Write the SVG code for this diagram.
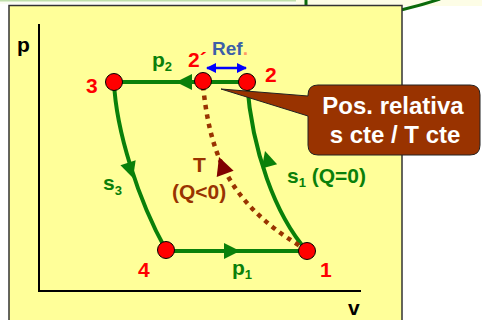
<svg xmlns="http://www.w3.org/2000/svg" width="482" height="320" viewBox="0 0 482 320">
<style>
.lbl{font-family:"Liberation Sans",Arial,sans-serif;font-weight:bold;font-size:21px}
.red{fill:#ff0000}
.grn{fill:#0a800a}
.brn{fill:#993300}
.sub{font-size:13px}
.pt{fill:#ff0000;stroke:#000;stroke-width:1}
.gl{fill:none;stroke:#0a800a;stroke-width:4}
.dot{fill:none;stroke:#993300;stroke-width:4.5;stroke-dasharray:4.5 5}
</style>
<defs>
<path id="ah" d="M0,0 L-16,-8 L-16,8 Z" fill="#0a800a"/>
<path id="ahd" d="M0,0 L-18,-9 L-18,9 Z" fill="#800000"/>
<marker id="ba" viewBox="0 0 10 10" refX="9" refY="5" markerWidth="4" markerHeight="4" orient="auto-start-reverse">
<path d="M0,0 L10,5 L0,10 Z" fill="#0000ff"/>
</marker>
</defs>
<rect width="482" height="320" fill="#ffffff"/>
<rect x="0" y="0" width="296" height="4" fill="#fbfdf3"/>
<line x1="0" y1="0.8" x2="296" y2="0.8" stroke="#bfe0ac" stroke-width="1.6"/>
<rect x="296" y="0" width="186" height="6" fill="#fdfde6"/>
<line x1="306" y1="0" x2="306" y2="6" stroke="#0a6a0a" stroke-width="3"/>
<path d="M401,10 Q422,5 440,-1" fill="none" stroke="#0a6a0a" stroke-width="3"/>
<rect x="9" y="5.5" width="393" height="330" fill="#ffff99" stroke="#333" stroke-width="1.5"/>
<g id="axes" stroke="#000" stroke-width="2">
<line x1="39" y1="24" x2="39" y2="291"/>
<line x1="38" y1="291" x2="361" y2="291"/>
</g>
<text class="lbl" x="17" y="52">p</text>
<text class="lbl" x="348" y="315">v</text>
<g id="connectors">
<line class="gl" x1="114" y1="82" x2="247" y2="82"/>
<use href="#ah" transform="translate(176,82) rotate(180)"/>
<line class="gl" x1="166" y1="251" x2="307" y2="251"/>
<use href="#ah" transform="translate(240,251)"/>
<path class="gl" d="M247,83 C252,150 275,215 307,251"/>
<use href="#ah" transform="translate(265,151) rotate(-106)"/>
<path class="gl" d="M114,82 C116,130 138,200 166,250"/>
<use href="#ah" transform="translate(133,178) rotate(72)"/>
<path class="dot" d="M203,86 C210,150 225,200 300,246"/>
<use href="#ahd" transform="translate(219,157) rotate(-110)"/>
<line x1="207" y1="68" x2="246" y2="68" stroke="#0000ff" stroke-width="2.5" marker-start="url(#ba)" marker-end="url(#ba)"/>
</g>
<g id="node-3"><circle class="pt" cx="114" cy="82" r="8.5"/><text class="lbl red" x="86" y="93">3</text></g>
<g id="node-2p"><circle class="pt" cx="203" cy="81" r="8.5"/><text class="lbl red" x="188" y="67">2´</text></g>
<g id="node-2"><circle class="pt" cx="247" cy="82" r="8.5"/><text class="lbl red" x="265" y="82">2</text></g>
<g id="node-4"><circle class="pt" cx="166" cy="250" r="8.5"/><text class="lbl red" x="138" y="277">4</text></g>
<g id="node-1"><circle class="pt" cx="307" cy="251" r="8.5"/><text class="lbl red" x="320" y="277">1</text></g>
<g id="labels">
<text class="lbl" x="212" y="55" style="font-size:19px;fill:#3d5fa8">Ref<tspan fill="#ff9966">.</tspan></text>
<text class="lbl grn" x="152" y="67">p<tspan class="sub" dy="4">2</tspan></text>
<text class="lbl grn" x="232" y="275">p<tspan class="sub" dy="4">1</tspan></text>
<text class="lbl grn" x="103" y="190">s<tspan class="sub" dy="5">3</tspan></text>
<text class="lbl grn" x="287" y="183">s<tspan class="sub" dy="4">1</tspan><tspan dy="-4"> (Q=0)</tspan></text>
<text class="lbl brn" x="193" y="172">T</text>
<text class="lbl brn" x="172" y="199">(Q&lt;0)</text>
</g>
<g id="callout">
<path d="M318,85 H470 Q480,85 480,95 V145 Q480,155 470,155 H318 Q308,155 308,145 V116 L221,89 L308,96 V95 Q308,85 318,85 Z" fill="#993300" stroke="#222" stroke-width="1"/>
<text class="lbl" x="393" y="114" text-anchor="middle" style="font-size:24px;fill:#fff">Pos. relativa</text>
<text class="lbl" x="395" y="143" text-anchor="middle" style="font-size:24px;fill:#fff">s cte / T cte</text>
</g>
</svg>
